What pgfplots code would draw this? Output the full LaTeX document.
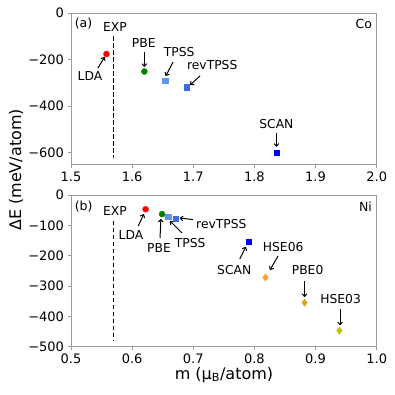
\documentclass[border=0pt]{standalone}
\usepackage{pgfplots}
\pgfplotsset{compat=1.18}
\usepackage{fontspec}
\setmainfont{DejaVu Sans}
\usetikzlibrary{arrows.meta}
\definecolor{cLDA}{HTML}{FF0000}
\definecolor{cPBE}{HTML}{008000}
\definecolor{cTPSS}{HTML}{6495ED}
\definecolor{cREV}{HTML}{4169E1}
\definecolor{cSCAN}{HTML}{0000FF}
\definecolor{cHSE06}{HTML}{FFA020}
\definecolor{cPBE0}{HTML}{DAA520}
\definecolor{cHSE03}{HTML}{BFBF00}
\definecolor{spine}{HTML}{9A9A9A}
\tikzset{
  ann/.style={font=\fontsize{12.3}{14}\selectfont, inner sep=0pt},
  arr/.style={-{To[length=3.5pt,width=5.5pt]}, line width=1pt, black},
  expline/.style={line width=1.2pt, black, dash pattern=on 4.5pt off 2.5pt},
}
\pgfplotsset{
  myaxis/.style={
    scale only axis, width=305.7pt, height=151.5pt,
    axis line style={spine, line width=0.9pt},
    tick style={spine, line width=0.9pt},
    tick align=outside, major tick length=3.5pt,
    xtick pos=left, ytick pos=left,
    ticklabel style={font=\fontsize{13}{15}\selectfont},
    /pgf/number format/assume math mode=true,
    xticklabel style={/pgf/number format/.cd, fixed, fixed zerofill, precision=1},
    clip=false,
  },
}
\begin{document}
\begin{tikzpicture}[x=1pt,y=1pt]
\useasboundingbox (0,0) rectangle (395,395);
% Top: Co
\begin{axis}[myaxis, at={(71pt,230.5pt)}, anchor=south west,
  xmin=1.5, xmax=2.0, ymin=-650, ymax=0,
  xtick={1.5,1.6,1.7,1.8,1.9,2.0},
  ytick={-600,-400,-200,0},
  yticklabels={−600,−400,−200,0}]
\addplot[only marks, mark=*, mark size=3pt, cLDA] coordinates {(1.558,-176)};
\addplot[only marks, mark=*, mark size=3pt, cPBE] coordinates {(1.620,-251)};
\addplot[only marks, mark=square*, mark size=2.6pt, cTPSS] coordinates {(1.654,-290)};
\addplot[only marks, mark=square*, mark size=2.6pt, cREV] coordinates {(1.689,-318)};
\addplot[only marks, mark=square*, mark size=2.6pt, cSCAN] coordinates {(1.836,-599)};
\addplot[expline] coordinates {(1.57,-100) (1.57,-620)};
\node[ann, anchor=west] at (rel axis cs:0.012,0.927) {\fontsize{12.5}{14}\selectfont(a)};
\node[ann, anchor=east] at (rel axis cs:0.985,0.927) {\fontsize{12.5}{14}\selectfont Co};
\node[ann] at (axis cs:1.572,-60) {EXP};
\node[ann] at (axis cs:1.531,-270) {LDA};
\draw[arr] (axis cs:1.544,-236) -- (axis cs:1.555,-189);
\node[ann] at (axis cs:1.619,-129) {PBE};
\draw[arr] (axis cs:1.620,-167) -- (axis cs:1.620,-231);
\node[ann] at (axis cs:1.677,-167) {TPSS};
\draw[arr] (axis cs:1.667,-210) -- (axis cs:1.655,-270);
\node[ann] at (axis cs:1.731,-223) {revTPSS};
\draw[arr] (axis cs:1.711,-270) -- (axis cs:1.695,-309);
\node[ann] at (axis cs:1.836,-476) {SCAN};
\draw[arr] (axis cs:1.836,-514) -- (axis cs:1.836,-574);
\end{axis}
% Bottom: Ni
\begin{axis}[myaxis, at={(71pt,48.3pt)}, anchor=south west, height=151.7pt,
  xmin=0.5, xmax=1.0, ymin=-500, ymax=0,
  xtick={0.5,0.6,0.7,0.8,0.9,1.0},
  ytick={-500,-400,-300,-200,-100,0},
  yticklabels={−500,−400,−300,−200,−100,0}]
\addplot[only marks, mark=*, mark size=3pt, cLDA] coordinates {(0.622,-47)};
\addplot[only marks, mark=*, mark size=3pt, cPBE] coordinates {(0.649,-63)};
\addplot[only marks, mark=square*, mark size=2.6pt, cTPSS] coordinates {(0.659,-71)};
\addplot[only marks, mark=square*, mark size=2.6pt, cREV] coordinates {(0.671,-78)};
\addplot[only marks, mark=square*, mark size=2.6pt, cSCAN] coordinates {(0.791,-154)};
\addplot[only marks, mark=diamond*, mark size=3.6pt, cHSE06] coordinates {(0.818,-272)};
\addplot[only marks, mark=diamond*, mark size=3.6pt, cPBE0] coordinates {(0.882,-355)};
\addplot[only marks, mark=diamond*, mark size=3.6pt, cHSE03] coordinates {(0.939,-447)};
\addplot[expline] coordinates {(0.57,-85) (0.57,-478)};
\node[ann, anchor=west] at (rel axis cs:0.012,0.923) {\fontsize{12.5}{14}\selectfont(b)};
\node[ann, anchor=east] at (rel axis cs:0.985,0.923) {\fontsize{12.5}{14}\selectfont Ni};
\node[ann] at (axis cs:0.572,-53) {EXP};
\node[ann] at (axis cs:0.598,-132) {LDA};
\draw[arr] (axis cs:0.610,-102) -- (axis cs:0.619,-63);
\node[ann] at (axis cs:0.644,-174) {PBE};
\draw[arr] (axis cs:0.6456,-142) -- (axis cs:0.647,-79);
\node[ann] at (axis cs:0.695,-158) {TPSS};
\draw[arr] (axis cs:0.6815,-125) -- (axis cs:0.662,-86);
\node[ann, anchor=west] at (axis cs:0.7045,-96) {revTPSS};
\draw[arr] (axis cs:0.6995,-81) -- (axis cs:0.678,-76);
\node[ann] at (axis cs:0.767,-247) {SCAN};
\draw[arr] (axis cs:0.776,-211) -- (axis cs:0.786,-171);
\node[ann] at (axis cs:0.847,-172) {HSE06};
\draw[arr] (axis cs:0.8386,-201) -- (axis cs:0.8255,-247);
\node[ann] at (axis cs:0.887,-247) {PBE0};
\draw[arr] (axis cs:0.882,-284) -- (axis cs:0.882,-336);
\node[ann] at (axis cs:0.941,-343) {HSE03};
\draw[arr] (axis cs:0.940,-376) -- (axis cs:0.940,-429);
\end{axis}
\node[font=\fontsize{16}{18}\selectfont, inner sep=0pt] at (224,20) {m (μ\textsubscript{B}/atom)};
\node[font=\fontsize{16}{18}\selectfont, inner sep=0pt, rotate=90] at (16,225) {ΔE (meV/atom)};
\end{tikzpicture}
\end{document}
